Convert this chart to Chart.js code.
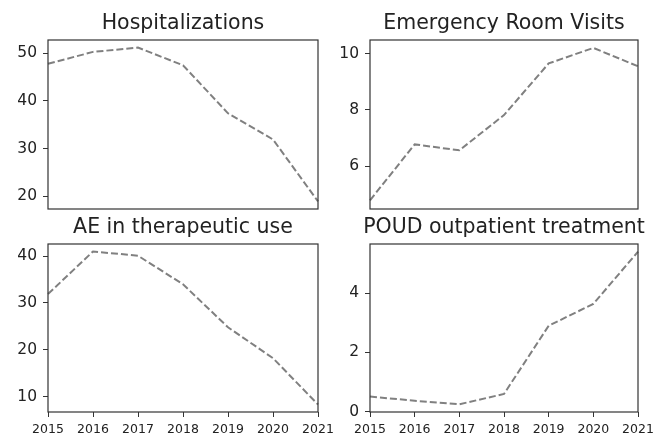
<!DOCTYPE html>
<html>
<head>
<meta charset="utf-8">
<script src="https://cdn.jsdelivr.net/npm/chart.js@4"></script>
<style>
  html, body { margin: 0; padding: 0; background: #fff; overflow: hidden; }
  body { width: 655px; height: 439px; position: relative; }
  .panel { position: absolute; }
</style>
</head>
<body>
<div class="panel" style="left:0px;top:0px;width:366px;height:225px"><canvas id="c1"></canvas></div>
<div class="panel" style="left:325px;top:0px;width:358px;height:225px"><canvas id="c2"></canvas></div>
<div class="panel" style="left:0px;top:204px;width:366px;height:235px"><canvas id="c3"></canvas></div>
<div class="panel" style="left:325px;top:204px;width:358px;height:235px"><canvas id="c4"></canvas></div>
<script>
const years = ["2015", "2016", "2017", "2018", "2019", "2020", "2021"];

const hospitalizations = [47.8, 50.3, 51.2, 47.5, 37.4, 31.9, 18.9];
const erVisits = [4.8, 6.78, 6.57, 7.82, 9.65, 10.2, 9.55];
const aeTherapeutic = [31.9, 41.0, 40.1, 34.0, 24.8, 18.2, 8.3];
const poudOutpatient = [0.51, 0.37, 0.25, 0.6, 2.9, 3.64, 5.4];

const titles = ["Hospitalizations", "Emergency Room Visits", "AE in therapeutic use", "POUD outpatient treatment"];

const FONT = "'DejaVu Sans', sans-serif";
const TEXT = "#222";

// box around the plot area, like matplotlib spines
const frame = {
  id: "frame",
  afterDatasetsDraw(chart) {
    const a = chart.chartArea;
    const ctx = chart.ctx;
    ctx.save();
    ctx.strokeStyle = "#333";
    ctx.lineWidth = 1.2;
    ctx.strokeRect(a.left, a.top, a.right - a.left, a.bottom - a.top);
    ctx.restore();
  }
};

function makeChart(id, title, values, yMin, yMax, step, showX, yWidth) {
  new Chart(document.getElementById(id), {
    type: "line",
    data: {
      labels: years,
      datasets: [{
        data: values,
        borderColor: "#808080",
        borderWidth: 2,
        borderDash: [7, 3],
        pointRadius: 0,
        tension: 0,
        fill: false
      }]
    },
    options: {
      responsive: true,
      maintainAspectRatio: false,
      animation: false,
      layout: { padding: 0 },
      plugins: {
        legend: { display: false },
        tooltip: { enabled: false },
        title: {
          display: true,
          text: title,
          color: TEXT,
          font: { family: FONT, size: 20.5, weight: "normal" },
          padding: { top: 11.2, bottom: 4.2 }
        }
      },
      scales: {
        x: {
          offset: false,
          grid: { display: showX, drawOnChartArea: false, drawTicks: showX, tickLength: 5, color: "#333" },
          border: { display: false },
          ticks: {
            display: showX,
            color: TEXT,
            font: { family: FONT, size: 12.5 },
            maxRotation: 0,
            autoSkip: false,
            padding: 5
          },
          afterFit(scale) { scale.height = showX ? 27 : 16; }
        },
        y: {
          min: yMin,
          max: yMax,
          grid: { display: true, drawOnChartArea: false, drawTicks: true, tickLength: 5, color: "#333" },
          border: { display: false },
          ticks: {
            stepSize: step,
            includeBounds: false,
            color: TEXT,
            font: { family: FONT, size: 15.5 },
            padding: 6
          },
          afterFit(scale) { scale.width = yWidth; }
        },
        // empty right axis so the title centres over the plot area
        y2: {
          position: "right",
          min: 0,
          max: 1,
          grid: { display: false },
          border: { display: false },
          ticks: { display: false },
          afterFit(scale) { scale.width = yWidth; }
        }
      }
    },
    plugins: [frame]
  });
}

makeChart("c1", titles[0], hospitalizations, 17.3, 52.8, 10, false, 48);
makeChart("c2", titles[1], erVisits, 4.49, 10.48, 2, false, 45);
makeChart("c3", titles[2], aeTherapeutic, 6.7, 42.6, 10, true, 48);
makeChart("c4", titles[3], poudOutpatient, -0.01, 5.66, 2, true, 45);
</script>
</body>
</html>
